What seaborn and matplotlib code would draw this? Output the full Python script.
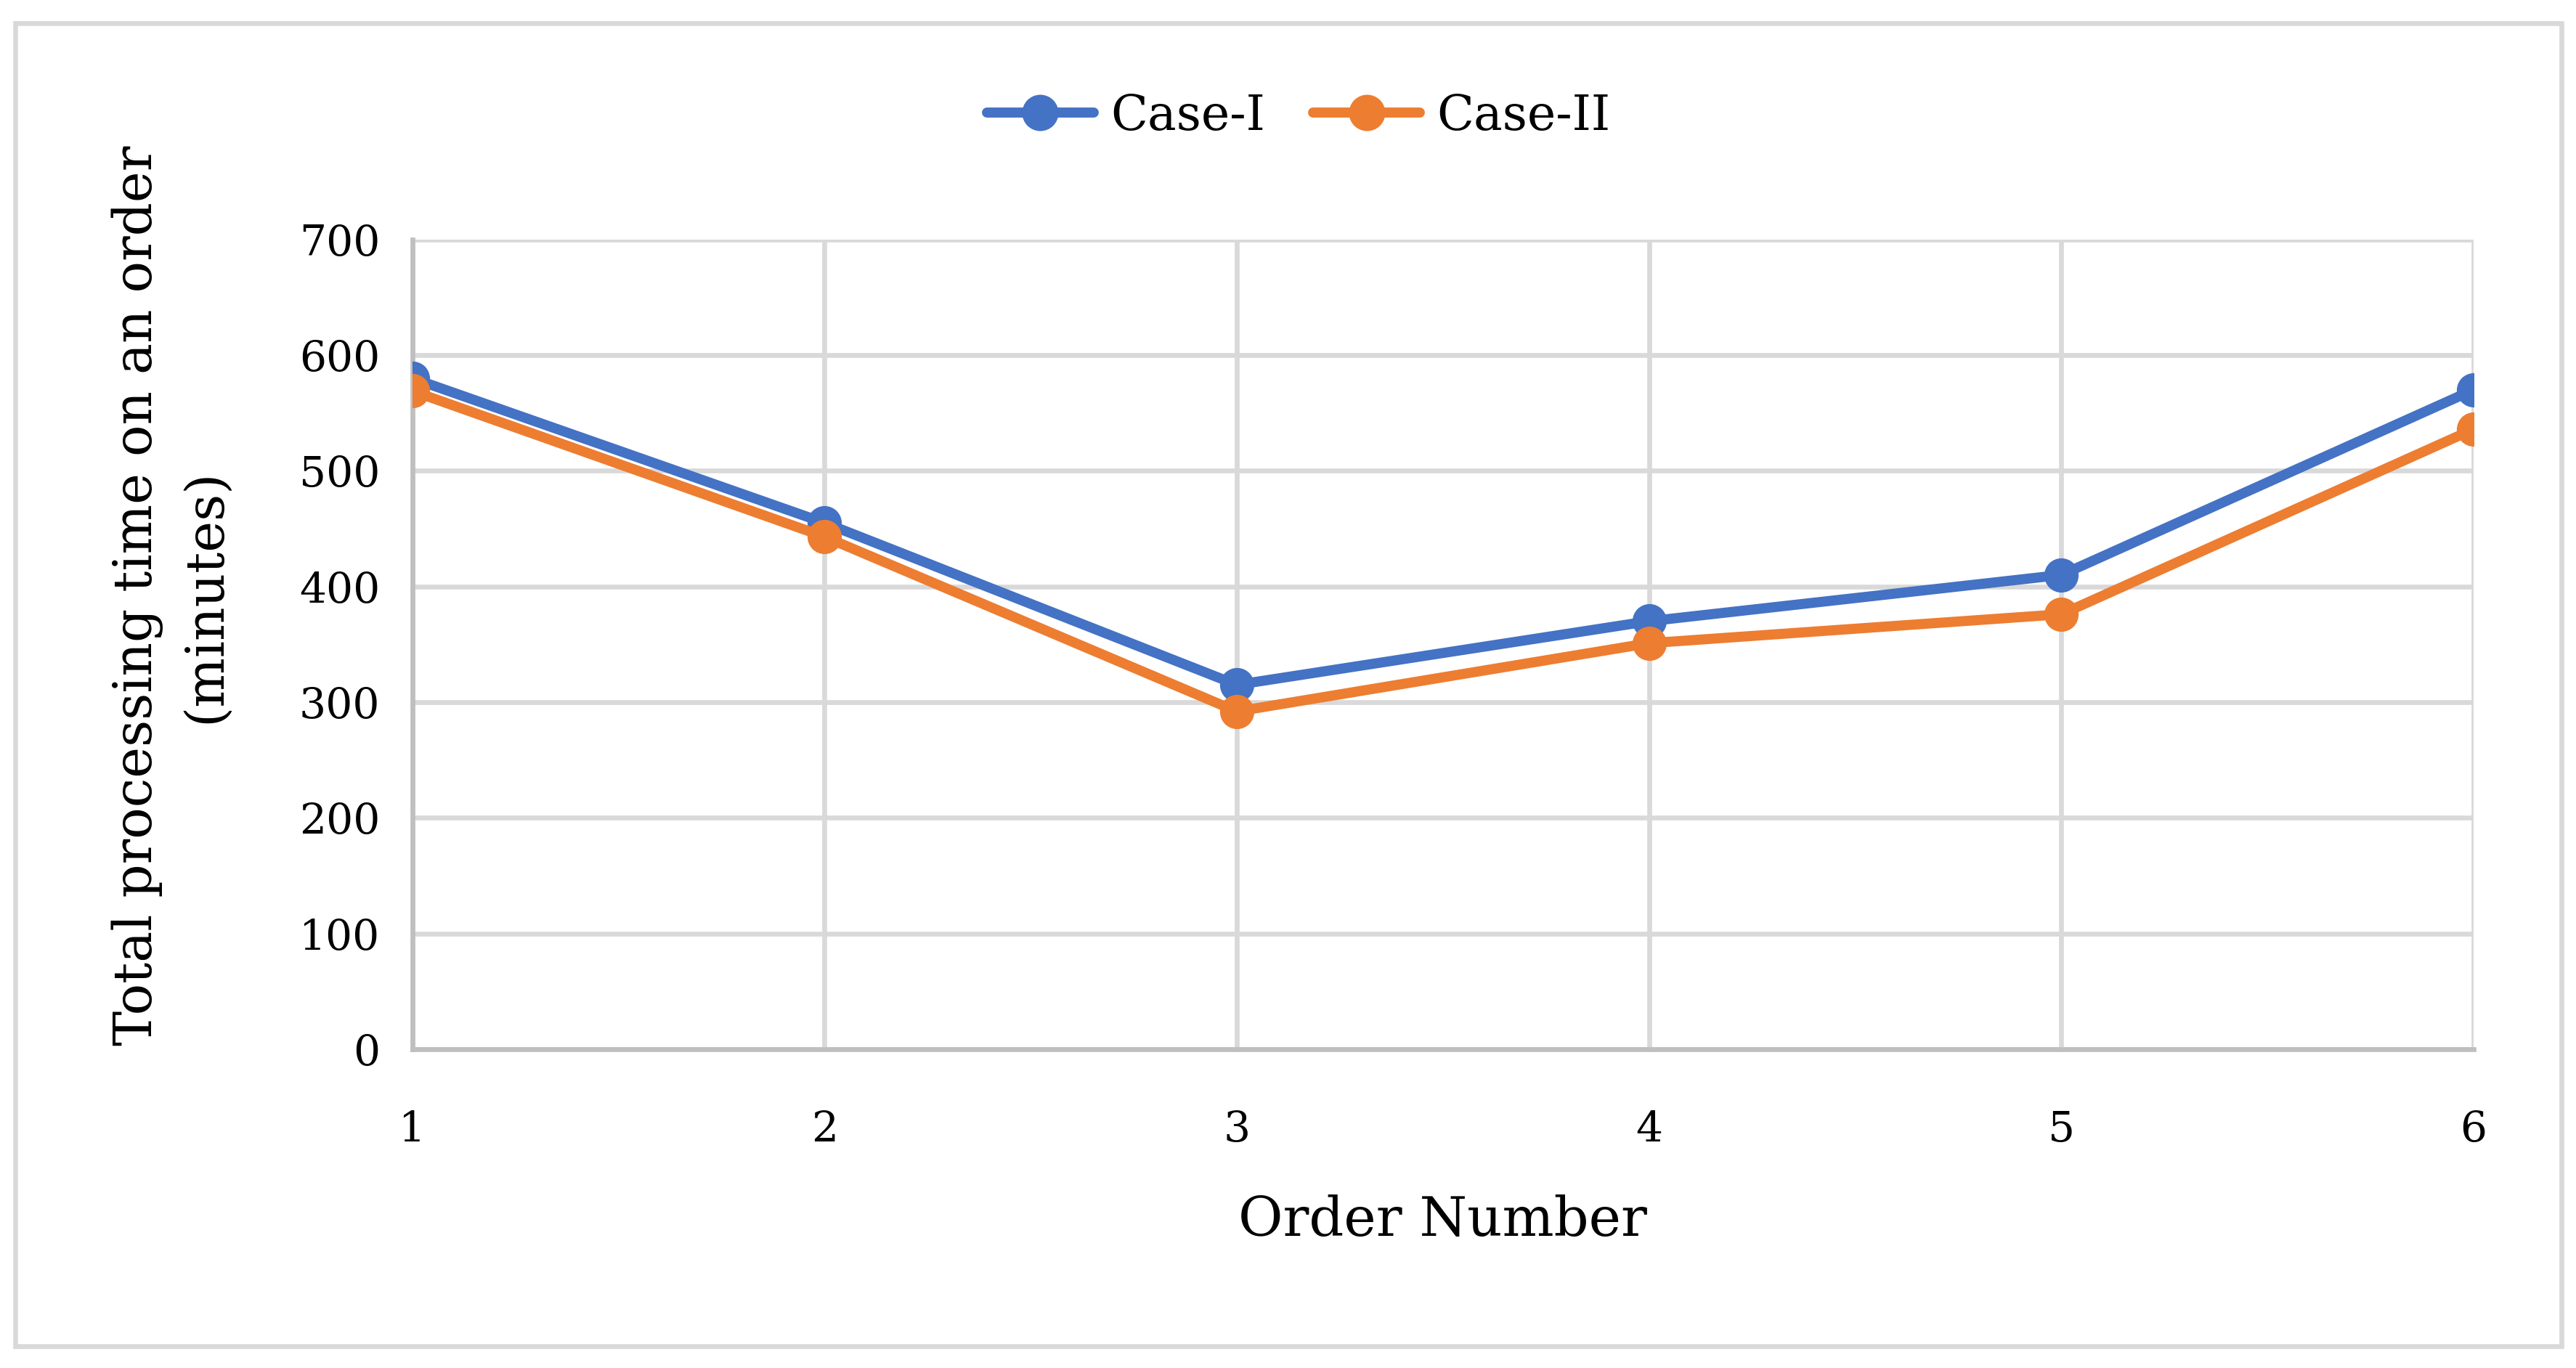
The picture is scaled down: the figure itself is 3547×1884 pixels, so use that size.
import numpy as np
import pandas as pd
import matplotlib
matplotlib.use("Agg")
import matplotlib.pyplot as plt
import seaborn as sns

# values
order_numbers = [1, 2, 3, 4, 5, 6]
case_1 = [580, 455, 315, 370, 410, 570]
case_2 = [569, 443, 292, 351, 376, 536]
series_names = ["Case-I", "Case-II"]
y_ticks = [0, 100, 200, 300, 400, 500, 600, 700]

df = pd.DataFrame({
    "Order Number": order_numbers * 2,
    "time": case_1 + case_2,
    "case": [series_names[0]] * len(case_1) + [series_names[1]] * len(case_2),
})

sns.set_theme(style="white")
plt.rcParams["font.family"] = ["DejaVu Serif"]
plt.rcParams["text.color"] = "black"
plt.rcParams["axes.labelcolor"] = "black"

fig = plt.figure(figsize=(17.74, 9.42), dpi=200)
ax = fig.add_axes([0.160, 0.233, 0.800, 0.592])

sns.lineplot(
    data=df, x="Order Number", y="time", hue="case",
    palette=["#4472C4", "#ED7D31"], marker="o", markersize=17,
    markeredgewidth=0, linewidth=5, ax=ax, legend=False, zorder=3,
)

ax.set_xlim(1, 6)
ax.set_ylim(0, 700)
ax.set_xticks(order_numbers)
ax.set_yticks(y_ticks)
ax.grid(True, color="#D9D9D9", linewidth=2.4, zorder=0)
ax.set_axisbelow(True)
for side in ["top", "right"]:
    ax.spines[side].set_visible(False)
for side in ["left", "bottom"]:
    ax.spines[side].set_color("#BFBFBF")
    ax.spines[side].set_linewidth(2.4)
ax.tick_params(axis="both", length=0, labelsize=21, colors="black")
ax.tick_params(axis="x", pad=30)
ax.tick_params(axis="y", pad=16)

ax.set_xlabel("Order Number", fontsize=27, labelpad=22)
ax.set_ylabel("Total processing time on an order\n(minutes)", fontsize=26,
              linespacing=1.4)
ax.yaxis.set_label_coords(-0.088, 0.56)

handles = [
    plt.Line2D([], [], color="#4472C4", marker="o", markersize=17, linewidth=5),
    plt.Line2D([], [], color="#ED7D31", marker="o", markersize=17, linewidth=5),
]
fig.legend(handles, series_names, loc="center", bbox_to_anchor=(0.504, 0.915),
           ncol=2, frameon=False, fontsize=24, handlelength=2.2,
           columnspacing=1.0, handletextpad=0.35)

border = plt.Rectangle((0.006, 0.016), 0.988, 0.967, transform=fig.transFigure,
                       fill=False, edgecolor="#D9D9D9", linewidth=2.4)
fig.patches.append(border)

fig.savefig("out.png", dpi=200, facecolor="white")
